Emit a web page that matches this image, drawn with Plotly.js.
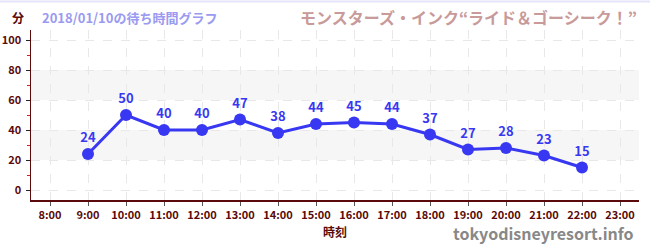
<!DOCTYPE html>
<html><head><meta charset="utf-8">
<script src="https://cdn.plot.ly/plotly-3.0.1.min.js"></script>
<style>body{margin:0;padding:0;background:#fff}#c{width:650px;height:250px}</style>
</head><body><div id="c"></div>
<script>
var hours = [9,10,11,12,13,14,15,16,17,18,19,20,21,22];
var waits = [24,50,40,40,47,38,44,45,44,37,27,28,23,15];
var tickVals = [8,9,10,11,12,13,14,15,16,17,18,19,20,21,22,23];
var tickText = ["8:00","9:00","10:00","11:00","12:00","13:00","14:00","15:00","16:00","17:00","18:00","19:00","20:00","21:00","22:00","23:00"];
var yTicks = [0,20,40,60,80,100];
var bands = [[20,40],[60,80]];

var F = '"Noto Sans CJK JP", "Noto Sans", sans-serif';
var maroon = '#5a0a0a';
var blue = '#3838f2';

var shapes = bands.map(function(b){
  return {type:'rect', xref:'paper', yref:'y', x0:0, x1:1, y0:b[0], y1:b[1],
    fillcolor:'#f6f6f6', line:{width:0}, layer:'below'};
});
shapes.push({type:'line', xref:'paper', yref:'paper', x0:-0.1, x1:1.1, y0:1.168, y1:1.168,
  line:{color:'#e4e4fa', width:2}});

var trace = {
  x: hours, y: waits, type:'scatter', mode:'lines+markers+text',
  text: waits.map(String), textposition:'top center',
  textfont:{family:F, size:13, color:blue, weight:'bold'},
  line:{color:blue, width:3},
  marker:{color:blue, size:12},
  cliponaxis:false, hoverinfo:'none'
};

var layout = {
  width:650, height:250,
  margin:{l:31, r:11, t:30, b:50},
  paper_bgcolor:'#fff', plot_bgcolor:'#fff',
  showlegend:false,
  font:{family:F, color:maroon},
  xaxis:{
    range:[7.5,23.5], tickvals:tickVals, ticktext:tickText,
    tickfont:{family:F, size:11, color:maroon, weight:'bold'},
    showline:true, linecolor:maroon, linewidth:1.5,
    ticks:'outside', ticklen:4, tickcolor:'#555', tickwidth:1,
    showgrid:true, gridcolor:'#e8e8e8', griddash:'dash', gridwidth:1,
    zeroline:false, fixedrange:true,
    title:{text:'時刻', font:{family:F, size:12, color:maroon, weight:'bold'}, standoff:8}
  },
  yaxis:{
    range:[-6.67,106.67], tickvals:yTicks,
    tickfont:{family:F, size:11, color:maroon, weight:'bold'},
    showline:true, linecolor:maroon, linewidth:1.5,
    ticks:'outside', ticklen:4, tickcolor:'#222', tickwidth:1,
    minor:{dtick:20, tick0:10, ticks:'outside', ticklen:3, tickcolor:'#d02020', showgrid:false},
    showgrid:true, gridcolor:'#e8e8e8', griddash:'dash', gridwidth:1,
    zeroline:false, fixedrange:true, ticklabelstandoff:2
  },
  shapes: shapes,
  annotations:[
    {text:'分', xref:'paper', yref:'paper', x:-0.021, y:1.076, xanchor:'center', yanchor:'middle',
      showarrow:false, font:{family:F, size:12, color:maroon, weight:'bold'}},
    {text:'2018/01/10の待ち時間グラフ', xref:'paper', yref:'paper', x:0.015, y:1.076, xanchor:'left', yanchor:'middle',
      showarrow:false, font:{family:F, size:13, color:'#9a9af0', weight:'bold'}},
    {text:'モンスターズ・インク“ライド＆ゴーシーク！”', xref:'paper', yref:'paper', x:1.0, y:1.076, xanchor:'right', yanchor:'middle',
      showarrow:false, font:{family:F, size:16, color:'#c89a9a', weight:'bold'}},
    {text:'tokyodisneyresort.info', xref:'paper', yref:'paper', x:0.995, y:-0.195, xanchor:'right', yanchor:'middle',
      showarrow:false, font:{family:F, size:16, color:'#888', weight:'bold'}}
  ]
};
Plotly.newPlot('c', [trace], layout, {displayModeBar:false, staticPlot:true});
</script></body></html>
